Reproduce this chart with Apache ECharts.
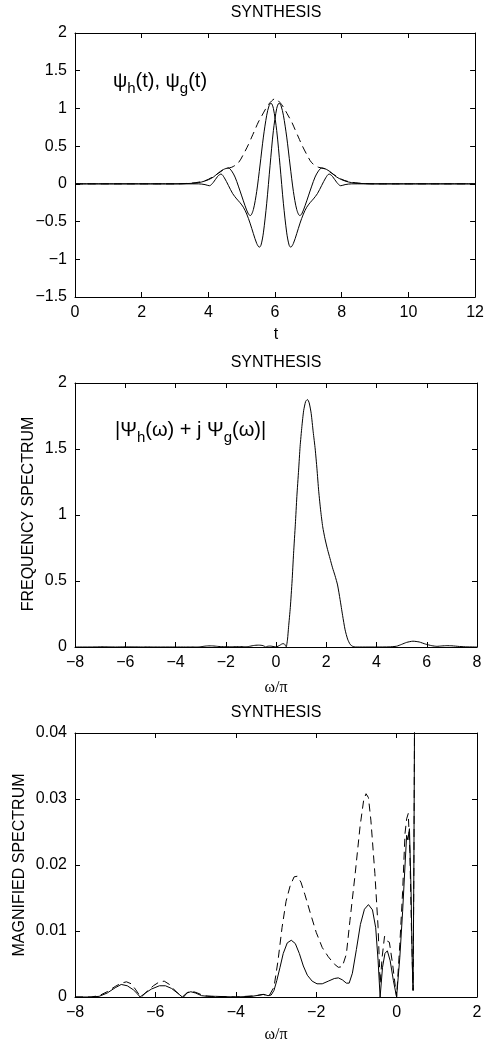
<!DOCTYPE html>
<html><head><meta charset="utf-8">
<script src="https://cdn.jsdelivr.net/npm/echarts@6/dist/echarts.min.js"></script>
<style>html,body{margin:0;padding:0;background:#fff}#c{width:487px;height:1047px}</style>
</head><body><div id="c"></div>
<script>
// ---- Panel 1: psi_h(t), psi_g(t) and envelope ----
const tH = [0,3.0,3.3,3.6,3.8,4.0,4.15,4.3,4.45,4.6, 4.7,4.8,4.9,5.0,5.1,5.2,5.26,5.35,5.45,5.55, 5.65,5.75,5.82,5.88,5.95,6.05,6.15,6.25,6.35,6.42, 6.47,6.55,6.65,6.75,6.85,6.95,7.05,7.15,7.27,7.4, 7.52,7.62,7.72,7.85,7.97,8.1,8.3,9.0,12];
const psiH = [0,0,0.003,0.01,0.025,0.055,0.09,0.145,0.19,0.21, 0.17,0.09,-0.03,-0.16,-0.29,-0.40,-0.42,-0.34,-0.10,0.25, 0.62,0.91,1.035,1.07,1.0,0.705,0.24,-0.257,-0.65,-0.81, -0.84,-0.79,-0.66,-0.52,-0.40,-0.31,-0.25,-0.20,-0.13,-0.02, 0.08,0.13,0.10,0.02,-0.025,-0.01,0,0,0];
const tG = [0,3.0,3.7,3.9,4.03,4.15,4.28,4.38,4.48,4.6, 4.73,4.85,4.95,5.05,5.15,5.25,5.35,5.45,5.53,5.58, 5.65,5.75,5.85,5.95,6.05,6.12,6.18,6.25,6.35,6.45, 6.55,6.65,6.74,6.8,6.9,7.0,7.1,7.2,7.3,7.4, 7.55,7.7,7.85,8.0,8.2,8.4,8.7,9.0,12];
const psiG = [0,0,0,-0.01,-0.025,0.02,0.10,0.13,0.08,-0.02, -0.13,-0.20,-0.25,-0.31,-0.40,-0.52,-0.66,-0.79,-0.84,-0.81, -0.65,-0.257,0.24,0.705,1.0,1.07,1.035,0.91,0.62,0.25, -0.10,-0.34,-0.42,-0.40,-0.29,-0.16,-0.03,0.09,0.17,0.21, 0.19,0.145,0.09,0.055,0.025,0.01,0.003,0,0];
const tE = [0,3.0,3.5,3.8,4.0,4.3,4.5,4.7,4.9,5.05, 5.2,5.3,5.4,5.5,5.6,5.7,5.8,5.9,6.0,6.1, 6.2,6.3,6.4,6.5,6.6,6.7,6.8,6.95,7.1,7.3, 7.5,7.7,8.0,8.2,8.5,9.0,12];
const envE = [0,0,0.01,0.03,0.06,0.14,0.2,0.22,0.28,0.39, 0.52,0.62,0.72,0.82,0.9,0.98,1.05,1.1,1.13,1.1, 1.05,0.98,0.9,0.82,0.72,0.62,0.52,0.39,0.28,0.22, 0.2,0.14,0.06,0.03,0.01,0,0];

// ---- Panel 2 & 3: |Psi_h + j Psi_g| (solid) ----
const wS = [-8,-7.6,-7.4,-7.2,-7.0,-6.85,-6.7,-6.55,-6.45,-6.38, -6.25,-6.1,-5.9,-5.75,-5.6,-5.45,-5.33,-5.22,-5.12,-5.0, -4.85,-4.7,-4.5,-4.0,-3.6,-3.4,-3.3,-3.2,-3.12,-3.05, -2.98,-2.9,-2.82,-2.72,-2.62,-2.52,-2.42,-2.32,-2.22,-2.1, -1.98,-1.85,-1.7,-1.55,-1.45,-1.35,-1.25,-1.18,-1.1,-1.0, -0.9,-0.8,-0.7,-0.6,-0.52,-0.46,-0.41,-0.35,-0.29,-0.23, -0.16,-0.08,0,0.08,0.15,0.21,0.25,0.28,0.32,0.36, 0.39,0.41,0.43,0.46,0.5,0.57,0.64,0.7,0.77,0.83, 0.9,0.96,1.03,1.1,1.18,1.25,1.32,1.4,1.48,1.56, 1.63,1.7,1.78,1.86,1.95,2.05,2.15,2.25,2.35,2.45, 2.55,2.65,2.75,2.85,2.95,3.05,3.15,4.0,4.5,4.8, 5.0,5.2,5.45,5.7,5.95,6.2,6.4,6.6,6.8,7.0, 7.3,7.6,8];
const magS = [0,0,0.0001,0.0006,0.0014,0.0019,0.0017,0.0011,0.0005,0, 0.0006,0.0012,0.0017,0.0017,0.0013,0.0006,0,0.0006,0.0008,0.0006, 0.0002,0.0001,0.0001,0,0.0001,0.0003,0.0004,0.0002,0.0003,0.001, 0.0025,0.0045,0.0066,0.0082,0.0086,0.0081,0.0066,0.0047,0.0033,0.0024, 0.002,0.002,0.0024,0.0028,0.0029,0.0026,0.0021,0.0021,0.0036,0.0072, 0.011,0.0133,0.014,0.0132,0.0105,0.0055,0,0.0045,0.0066,0.007, 0.0055,0.0025,0,0.006,0.013,0.02,0.0245,0.0238,0.0255,0.016, 0.005,0.001,0.02,0.06,0.15,0.3,0.5,0.71,0.93,1.14, 1.34,1.52,1.67,1.79,1.86,1.875,1.85,1.77,1.63,1.5, 1.35,1.18,1.03,0.91,0.82,0.74,0.67,0.6,0.54,0.47, 0.36,0.24,0.13,0.06,0.02,0.005,0,0,0.001,0.006, 0.02,0.035,0.044,0.038,0.022,0.01,0.005,0.008,0.01,0.009, 0.004,0.001,0];

// ---- Panel 3: dashed companion spectrum ----
const wD = [-8,-7.6,-7.4,-7.2,-7.0,-6.85,-6.72,-6.6,-6.5,-6.4, -6.35,-6.2,-6.05,-5.9,-5.78,-5.65,-5.5,-5.35,-5.3,-5.2, -5.1,-4.95,-4.8,-4.6,-4.0,-3.5,-3.32,-3.18,-3.05,-2.95, -2.85,-2.75,-2.65,-2.55,-2.47,-2.38,-2.28,-2.15,-2.0,-1.85, -1.7,-1.55,-1.45,-1.35,-1.25,-1.16,-1.03,-0.91,-0.82,-0.76, -0.7,-0.64,-0.54,-0.46,-0.41,-0.36,-0.3,-0.24,-0.18,-0.1, 0,0.08,0.15,0.21,0.25,0.29,0.33,0.37,0.41,0.43, 0.46,0.5];
const magD = [0,0,0.0002,0.0008,0.0016,0.0021,0.0023,0.002,0.0012,0.0003, 0,0.0009,0.0017,0.0023,0.0024,0.0019,0.0009,0.0001,0,0.0007, 0.0009,0.0006,0.0002,0.0001,0,0.0002,0.0004,0.0001,0.0015,0.0055, 0.0105,0.0145,0.0168,0.0182,0.0183,0.0174,0.0155,0.0128,0.0098,0.0075, 0.0061,0.005,0.0045,0.0046,0.0065,0.0116,0.0187,0.0258,0.0298,0.0308, 0.0302,0.0268,0.0187,0.0105,0.002,0.006,0.0092,0.0085,0.0083,0.005, 0,0.008,0.016,0.0248,0.027,0.0278,0.022,0.01,0.001,0.02, 0.06,0.15];

// axis ranges [min, max, interval]
const xRanges = [[0,12,2],[-8,8,2],[-8,2,2]];
const yRanges = [[-1.5,2,0.5],[0,2,0.5],[0,0.04,0.01]];
const titles = ['SYNTHESIS','SYNTHESIS','SYNTHESIS'];
// annotation pieces: [text, isSubscript]
const note1 = [['\u03c8',0],['h',1],['(t), \u03c8',0],['g',1],['(t)',0]];
const note2 = [['|\u03a8',0],['h',1],['(\u03c9) + j \u03a8',0],['g',1],['(\u03c9)|',0]];

const F = "'Liberation Sans', Arial, Helvetica, sans-serif";
const FS = "'Liberation Serif', 'Times New Roman', serif";
function zip(xs, ys){ return xs.map((x,i)=>[x, ys[i]]); }
function fmt(v){ const s = String(+Math.abs(v).toFixed(4)); return (v<0?'\u2212':'') + s; }

const grids = [
  {left:75, top:33, width:402, height:264},
  {left:75, top:383, width:402, height:264},
  {left:75, top:733, width:402, height:264}
];
function ax(r, gi, pos, showLabel){
  return {type:'value', gridIndex:gi, min:r[0], max:r[1], interval:r[2], position:pos,
    axisLine:{show:true, onZero:false, lineStyle:{color:'#000', width:1}},
    axisTick:{show:true, inside:true, length:5, lineStyle:{color:'#000', width:1}},
    splitLine:{show:false},
    axisLabel:{show:showLabel, color:'#000', fontSize:16, fontFamily:F, margin:8,
      formatter:fmt, showMinLabel:true, showMaxLabel:true}
  };
}
const xAxis = [], yAxis = [];
for (let g=0; g<3; g++){
  xAxis.push(ax(xRanges[g], g, 'bottom', true));
  xAxis.push(ax(xRanges[g], g, 'top', false));
  yAxis.push(ax(yRanges[g], g, 'left', true));
  yAxis.push(ax(yRanges[g], g, 'right', false));
}
function line(g, data, dashed, smooth){
  return {type:'line', xAxisIndex:2*g, yAxisIndex:2*g, data, showSymbol:false, symbol:'none',
    smooth: smooth || false, clip:true, silent:true,
    lineStyle:{color:'#000', width:1, type: dashed ? [8,5] : 'solid'}};
}
const series = [
  line(0, zip(tE, envE), true, 0.3),
  line(0, zip(tH, psiH), false, 0.3),
  line(0, zip(tG, psiG), false, 0.3),
  line(1, zip(wS, magS), false, 0.2),
  line(2, zip(wD, magD), true, false),
  line(2, zip(wS, magS), false, false)
];
function txt(x, y, text, opts){
  return Object.assign({type:'text', x, y, silent:true,
    style:{text, fill:'#000', font:'16px ' + F, textAlign:'center', textVerticalAlign:'middle'}}, opts||{});
}
const mctx = document.createElement('canvas').getContext('2d');
function subText(x0, yMain, pieces, fsMain, fsSub, dy){
  let x = x0; const out = [];
  pieces.forEach(p => {
    const font = (p[1] ? fsSub : fsMain) + 'px ' + F;
    mctx.font = font;
    out.push({type:'text', x, y: yMain + (p[1] ? dy : 0), silent:true,
      style:{text:p[0], font, fill:'#000', textAlign:'left', textVerticalAlign:'middle'}});
    x += mctx.measureText(p[0]).width;
  });
  return out;
}
const graphic = [
  txt(276, 13, titles[0]),
  txt(276, 363, titles[1]),
  txt(276, 713, titles[2]),
  txt(276, 335, 't'),
  {type:'text', x:276, y:688, silent:true, style:{text:'\u03c9/\u03c0', fill:'#000', font:'16px ' + FS, textAlign:'center', textVerticalAlign:'middle'}},
  {type:'text', x:276, y:1035, silent:true, style:{text:'\u03c9/\u03c0', fill:'#000', font:'16px ' + FS, textAlign:'center', textVerticalAlign:'middle'}},
  {type:'text', x:29, y:514, rotation:Math.PI/2, silent:true, style:{text:'FREQUENCY SPECTRUM', fill:'#000', font:'16px ' + F, textAlign:'center', textVerticalAlign:'middle'}},
  {type:'text', x:20, y:865, rotation:Math.PI/2, silent:true, style:{text:'MAGNIFIED SPECTRUM', fill:'#000', font:'16px ' + F, textAlign:'center', textVerticalAlign:'middle'}}
].concat(subText(113, 81, note1, 20, 15, 8), subText(115, 430, note2, 20, 15, 8));
const chart = echarts.init(document.getElementById('c'), null, {renderer:'canvas'});
chart.setOption({animation:false, backgroundColor:'#fff', grid:grids, xAxis, yAxis, series, graphic});
</script></body></html>
